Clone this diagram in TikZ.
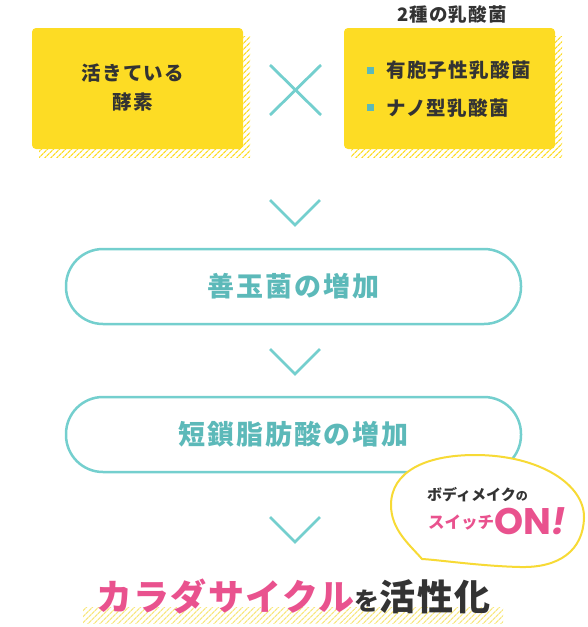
\documentclass[tikz,border=0pt]{standalone}
\usepackage{fontspec}
\newfontfamily\jp{Noto Sans CJK JP}
\newfontfamily\pop{Poppins}
\usetikzlibrary{patterns.meta}
\definecolor{boxy}{HTML}{FDDC24}
\definecolor{lighty}{HTML}{F8E77E}
\definecolor{tline}{HTML}{74CFCE}
\definecolor{ttext}{HTML}{5CB9B9}
\definecolor{pinkc}{HTML}{E9528E}
\definecolor{darkc}{HTML}{333333}
\definecolor{buby}{HTML}{F7DA35}
\begin{document}
\begin{tikzpicture}[x=1pt,y=-1pt,
  font=\jp\bfseries,
  ybox/.style={fill=boxy, rounded corners=4pt, minimum width=211pt, minimum height=121pt, inner sep=0pt},
  hatch/.style={pattern={Lines[angle=45,distance=4pt,line width=1.3pt]}, pattern color=boxy},
  lhatch/.style={pattern={Lines[angle=45,distance=4pt,line width=1.3pt]}, pattern color=lighty},
  pill/.style={draw=tline, line width=2.5pt, rounded corners=37pt, fill=white, minimum width=455pt, minimum height=75pt, text=ttext, font=\jp\bfseries\fontsize{27}{27}\selectfont\addfontfeatures{LetterSpace=7}},
  tealstroke/.style={draw=tline, line width=2.8pt},
  bullet/.style={fill=ttext, minimum size=7pt, inner sep=0pt},
  dtext/.style={text=darkc, inner sep=0pt},
  bubble/.style={draw=buby, line width=2pt, fill=white}]
\useasboundingbox (0,0) rectangle (588,627);
% hatched shadows
\path[hatch] (39,36) rectangle (250,157);
\path[hatch] (351,36) rectangle (562,157);
% yellow boxes
\node[ybox] (b1) at (137.5,88.5) {};
\node[ybox] (b2) at (449.5,88.5) {};
\node[dtext, align=center, font=\jp\bfseries\fontsize{19.5}{29}\selectfont\addfontfeatures{LetterSpace=6}] (t1) at (133,88) {活きている\\酵素};
\node[dtext, font=\jp\bfseries\fontsize{18.5}{18.5}\selectfont\addfontfeatures{LetterSpace=6}] (t2) at (452,14) {2種の乳酸菌};
\node[bullet] (s1) at (370,70) {};
\node[bullet] (s2) at (370,107) {};
\node[dtext, anchor=west, font=\jp\bfseries\fontsize{19.5}{19.5}\selectfont\addfontfeatures{LetterSpace=7}] (i1) at (386,70) {有胞子性乳酸菌};
\node[dtext, anchor=west, font=\jp\bfseries\fontsize{19.5}{19.5}\selectfont\addfontfeatures{LetterSpace=7}] (i2) at (386,108) {ナノ型乳酸菌};
% cross
\draw[tealstroke] (270,65) -- (321,115);
\draw[tealstroke] (321,65) -- (270,115);
% pills
\node[pill] (p1) at (293.5,286.5) {善玉菌の増加};
\node[pill] (p2) at (293.5,434.5) {短鎖脂肪酸の増加};
% chevrons
\draw[tealstroke] (270,200) -- (295,225) -- (320,200);
\draw[tealstroke] (270,349) -- (295,374) -- (320,349);
\draw[tealstroke] (270,517) -- (295,542) -- (320,517);
% speech bubble
\filldraw[bubble] (422,559) .. controls (410,545) and (391,530) .. (391,505)
  .. controls (391,472) and (425,455) .. (475,455)
  .. controls (540,455) and (585,485) .. (584,518)
  .. controls (583,550) and (560,568) .. (520,567)
  .. controls (480,566) and (440,560) .. (422,559) -- cycle;
\node[dtext, anchor=west, font=\jp\bfseries\fontsize{15}{15}\selectfont] (bt1) at (427,495) {ボディメイク{\fontsize{12}{12}\selectfont の}};
\node[anchor=west, inner sep=0pt, text=pinkc, font=\jp\bfseries\fontsize{16.5}{16.5}\selectfont] (bt2) at (428,523) {スイッチ};
\node[anchor=base west, inner sep=0pt, text=pinkc, font=\pop\bfseries\fontsize{37}{37}\selectfont] (bt3) at (494,534) {ON{\itshape !}};
% bottom highlight
\path[lhatch] (83,607) rectangle (503,623);
\node[dtext, font=\jp\bfseries\fontsize{36}{36}\selectfont\addfontfeatures{LetterSpace=4}] (fin) at (293.5,597) {\textcolor{pinkc}{カラダサイクル}{\fontsize{25}{25}\selectfont を}活性化};
\end{tikzpicture}
\end{document}
